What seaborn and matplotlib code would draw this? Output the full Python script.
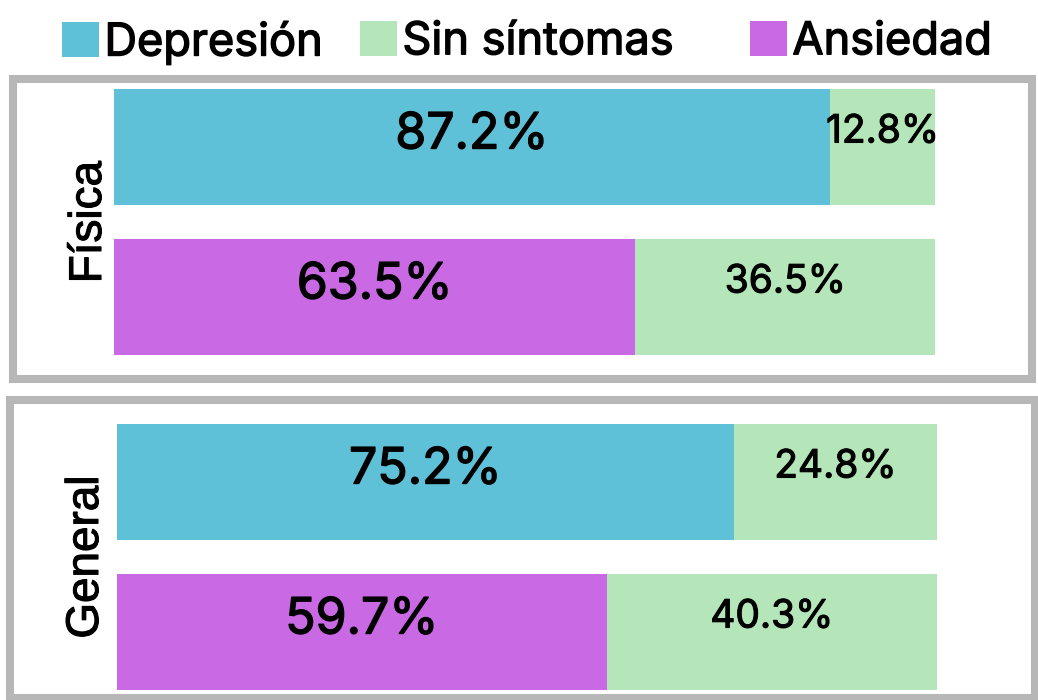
import matplotlib
matplotlib.use("Agg")
import matplotlib.pyplot as plt
import matplotlib.patheffects as pe
from matplotlib.patches import Rectangle, Patch
import seaborn as sns
import pandas as pd

# ---- data ----
groups = ["Física", "General"]
conditions = ["Depresión", "Ansiedad"]
with_symptoms = {"Física": [87.2, 63.5], "General": [75.2, 59.7]}
without_symptoms = {"Física": [12.8, 36.5], "General": [24.8, 40.3]}
legend_labels = ["Depresión", "Sin síntomas", "Ansiedad"]

C_DEP = "#5fc1d7"
C_ANS = "#c96ae4"
C_SIN = "#b5e6b9"
FRAME = "#b7b7b7"

sns.set_theme(style="white")
plt.rcParams["font.family"] = ["Inter", "DejaVu Sans"]
plt.rcParams["text.color"] = "black"

W, H = 1038, 700
fig = plt.figure(figsize=(W / 100, H / 100), dpi=100)
fig.patch.set_facecolor("white")

BOLDEN = [pe.withStroke(linewidth=1.0, foreground="black")]
BOLDEN_S = [pe.withStroke(linewidth=0.8, foreground="black")]

def fx(px):
    return px / W

def fy(py):
    return 1 - py / H

# frames (figure pixel coordinates, border centres)
frames = [(13, 79, 1031.5, 379), (10, 400, 1035, 698)]
for x0, y0, x1, y1 in frames:
    fig.patches.append(Rectangle((fx(x0), fy(y1)), fx(x1) - fx(x0), (y1 - y0) / H,
                                 transform=fig.transFigure, fill=False,
                                 edgecolor=FRAME, linewidth=5.8, zorder=0))

# axes extents in pixels: (left, top, right, bottom)
axes_px = [(114, 89, 935, 355), (117, 424, 937, 690)]
label_x = [89, 86]
bar_w = 0.773
for g, (l, t, r, b), lx in zip(groups, axes_px, label_x):
    ax = fig.add_axes([fx(l), fy(b), fx(r) - fx(l), (b - t) / H])
    df = pd.DataFrame({
        "cond": conditions,
        "pct": with_symptoms[g],
        "sin": without_symptoms[g],
    })
    df["total"] = df["pct"] + df["sin"]
    sns.barplot(data=df, x="total", y="cond", color=C_SIN, width=bar_w,
                linewidth=0, saturation=1, ax=ax, orient="h")
    sns.barplot(data=df, x="pct", y="cond", hue="cond",
                palette=[C_DEP, C_ANS], width=bar_w, linewidth=0,
                saturation=1, legend=False, ax=ax, orient="h", dodge=False)
    ax.set_xlim(0, 100)
    ax.set_ylim(1 + bar_w / 2, -bar_w / 2)
    for s in ax.spines.values():
        s.set_visible(False)
    ax.set_xticks([])
    ax.set_yticks([])
    ax.set_xlabel("")
    ax.set_ylabel("")
    ax.patch.set_alpha(0)
    # value labels
    for i, row in df.iterrows():
        ax.text(row["pct"] / 2, i - 0.08, f"{row['pct']:.1f}%", ha="center",
                va="center", fontsize=36, color="black", path_effects=BOLDEN)
        ax.text(row["pct"] + row["sin"] / 2, i - 0.1, f"{row['sin']:.1f}%",
                ha="center", va="center", fontsize=28, color="black",
                path_effects=BOLDEN_S)
    ax.text((lx - l) / (r - l), 0.5, g, rotation=90, ha="center", va="center",
            transform=ax.transAxes, fontsize=33,
            family=["Liberation Sans", "DejaVu Sans"], color="black",
            path_effects=BOLDEN_S)

# legend: one entry per label, placed at the reference positions
leg_x = [62, 360, 750]
colors = [C_DEP, C_SIN, C_ANS]
for lab, c, x in zip(legend_labels, colors, leg_x):
    leg = fig.legend([Patch(facecolor=c, edgecolor="none")], [lab],
                     loc="upper left", bbox_to_anchor=(fx(x), fy(21)),
                     frameon=False, handlelength=0.82, handleheight=0.82,
                     handletextpad=0.12, borderpad=0, borderaxespad=0,
                     prop={"size": 32.5})
    for t in leg.get_texts():
        t.set_color("black")
        t.set_path_effects(BOLDEN)

fig.savefig("out.png", dpi=100, facecolor="white")
